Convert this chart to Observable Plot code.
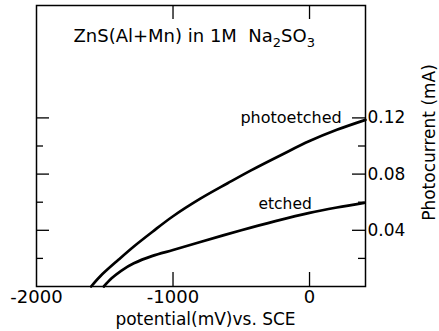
<!DOCTYPE html>
<html><head><meta charset="utf-8">
<script src="https://cdn.jsdelivr.net/npm/d3@7"></script>
<script src="https://cdn.jsdelivr.net/npm/@observablehq/plot@0.6"></script>
<style>body{margin:0;background:#fff} svg{display:block}</style>
</head><body><div id="chart"></div>
<script>
// ---- data ----
const potentialPhotoetched = [-1600, -1531, -1400, -1287, -1150, -1000, -800, -600, -432, -200, 0, 200, 410];
const currentPhotoetched   = [0, 0.0075, 0.019, 0.0285, 0.039, 0.050, 0.0625, 0.0735, 0.0825, 0.094, 0.1035, 0.1115, 0.1186];
const potentialEtched = [-1507, -1450, -1380, -1287, -1150, -1000, -800, -500, -250, 0, 200, 400];
const currentEtched   = [0, 0.0058, 0.0112, 0.0165, 0.0218, 0.026, 0.0317, 0.040, 0.0465, 0.0524, 0.0562, 0.0595];
const seriesNames = ["photoetched", "etched"];
const xTickLabels = [-2000, -1000, 0];
const xTickMarks = [-1000, 0];
const yTickLabels = [0.04, 0.08, 0.12];
const yMinorTicks = [0.02, 0.06, 0.10];
const titleText = "ZnS(Al+Mn) in 1M  Na2SO3";
const xLabel = "potential(mV)vs. SCE";
const yLabel = "Photocurrent (mA)";

const rows = [
  ...potentialPhotoetched.map((x, i) => ({series: seriesNames[0], x, y: currentPhotoetched[i]})),
  ...potentialEtched.map((x, i) => ({series: seriesNames[1], x, y: currentEtched[i]}))
];

const W = 439, H = 331, mL = 36, mR = 74, mT = 5, mB = 45;
const fw = W - mL - mR, fh = H - mT - mB;
const majorLen = 13, minorLen = 7, xTickLen = 14;

const chart = Plot.plot({
  width: W, height: H,
  marginLeft: mL, marginRight: mR, marginTop: mT, marginBottom: mB,
  x: {domain: [-2000, 410]},
  y: {domain: [0, 0.2]},
  style: {fontFamily: "DejaVu Sans", fontSize: "17px", color: "#000", background: "#fff"},
  marks: [
    Plot.frame({stroke: "#000", strokeWidth: 1.5}),
    Plot.tickY(yTickLabels, {y: d => d, insetRight: fw - majorLen, stroke: "#000", strokeWidth: 1.3}),
    Plot.tickY(yMinorTicks, {y: d => d, insetRight: fw - minorLen, stroke: "#000", strokeWidth: 1.3}),
    Plot.tickY(yTickLabels, {y: d => d, insetLeft: fw - majorLen, stroke: "#000", strokeWidth: 1.3}),
    Plot.tickY(yMinorTicks, {y: d => d, insetLeft: fw - minorLen, stroke: "#000", strokeWidth: 1.3}),
    Plot.tickX(xTickMarks, {x: d => d, insetTop: fh - xTickLen, stroke: "#000", strokeWidth: 1.3}),
    Plot.tickX(xTickMarks, {x: d => d, insetBottom: fh - xTickLen, stroke: "#000", strokeWidth: 1.3}),
    Plot.axisX({ticks: xTickLabels, tickSize: 0, tickPadding: 4, tickFormat: d => String(d), label: null, fontSize: 18, style: "letter-spacing:0.6px"}),
    Plot.axisY({anchor: "right", ticks: yTickLabels, tickSize: 0, tickPadding: 2, tickFormat: d3.format(".2f"), label: null, fontSize: 17}),
    Plot.line(rows, {x: "x", y: "y", z: "series", stroke: "#000", strokeWidth: 2.7, curve: "catmull-rom"}),
    Plot.text([seriesNames[0]], {x: -506, y: 0.12, text: d => d, textAnchor: "start", fontSize: 16}),
    Plot.text([seriesNames[1]], {x: -374, y: 0.0586, text: d => d, textAnchor: "start", fontSize: 15.5}),
    Plot.text([titleText], {frameAnchor: "top-left", dx: 37, dy: 31, textAnchor: "start", lineAnchor: "middle", fontSize: 18}),
    Plot.text([xLabel], {frameAnchor: "bottom", dx: 4.5, dy: 33, textAnchor: "middle", lineAnchor: "middle", fontSize: 17}),
    Plot.text([yLabel], {frameAnchor: "right", dx: 64.5, dy: -3.5, rotate: -90, textAnchor: "middle", lineAnchor: "middle", fontSize: 17})
  ]
});

// subscripts in the title
chart.querySelectorAll("text").forEach(t => {
  if (t.textContent === titleText) {
    t.textContent = "";
    t.setAttribute("style", "white-space:pre");
    const parts = [["ZnS(Al+Mn) in 1M  Na", 0], ["2", 1], ["SO", -1], ["3", 1]];
    parts.forEach(([s, sub], i) => {
      const ts = document.createElementNS("http://www.w3.org/2000/svg", "tspan");
      ts.textContent = s;
      if (i > 0) ts.setAttribute("dy", sub === 1 ? 5 : -5);
      if (sub === 1) ts.setAttribute("font-size", "13");
      t.appendChild(ts);
    });
  }
});

document.getElementById("chart").appendChild(chart);
</script>
</body></html>
